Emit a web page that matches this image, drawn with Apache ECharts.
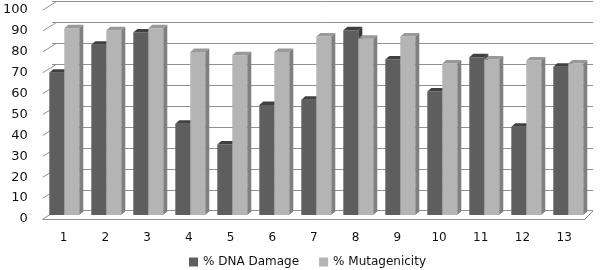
<!DOCTYPE html>
<html>
<head>
<meta charset="utf-8">
<script src="https://cdn.jsdelivr.net/npm/echarts@6/dist/echarts.min.js"></script>
<style>
  html, body { margin: 0; padding: 0; background: #fff; }
  #main { width: 600px; height: 270px; }
</style>
</head>
<body>
<div id="main"></div>
<script>
var categories = ['1', '2', '3', '4', '5', '6', '7', '8', '9', '10', '11', '12', '13']
var dnaDamage = [68.5, 82, 88, 44, 34, 53, 55.5, 89, 75, 59.5, 76, 42.5, 71.5]
var mutagenicity = [90, 89, 90, 78.5, 77, 78.5, 86, 85, 86, 73, 75, 74.5, 73]
var yTicks = [0, 10, 20, 30, 40, 50, 60, 70, 80, 90, 100]

var font = 'DejaVu Sans'
var lineColor = '#909090'

// 3d-ish column: front face, top face, right side face
function barItem (side, front, top, right) {
  return function (params, api) {
    var c = api.coord([api.value(0), api.value(1)])
    var base = api.coord([api.value(0), 0])
    var band = api.size([1, 0])[0]
    var w = band * 0.357
    var x0 = side < 0 ? c[0] - w : c[0]
    var x1 = x0 + w
    var dx = 4
    var dy = 3.5
    return {
      type: 'group',
      children: [
        { type: 'rect', shape: { x: x0, y: c[1], width: w, height: base[1] - c[1] }, style: { fill: front } },
        { type: 'polygon', shape: { points: [[x0, c[1]], [x0 + dx, c[1] - dy], [x1 + dx, c[1] - dy], [x1, c[1]]] }, style: { fill: top } },
        { type: 'polygon', shape: { points: [[x1, c[1]], [x1 + dx, c[1] - dy], [x1 + dx, base[1] - dy], [x1, base[1]]] }, style: { fill: right } }
      ]
    }
  }
}

// side wall lines from the label plane to the back wall
function wallItem (params, api) {
  var p = api.coord([0, api.value(0)])
  var x = params.coordSys.x
  var children = [
    { type: 'line', shape: { x1: x, y1: p[1], x2: x + 13, y2: p[1] - 8 }, style: { stroke: lineColor, lineWidth: 1 } }
  ]
  if (api.value(0) === 0) {
    var xr = params.coordSys.x + params.coordSys.width
    children.push({ type: 'line', shape: { x1: xr, y1: p[1], x2: xr + 8, y2: p[1] - 8 }, style: { stroke: lineColor, lineWidth: 1 } })
  }
  return { type: 'group', children: children }
}

var chart = echarts.init(document.getElementById('main'))
chart.setOption({
  animation: false,
  textStyle: { fontFamily: font },
  grid: [
    { left: 43.3, right: 10.7, top: 7.5, bottom: 55 },
    { left: 39, right: 15, top: 10, bottom: 51 },
    { left: 52, right: 7, top: 1.7, bottom: 59.3 }
  ],
  xAxis: [
    { type: 'category', gridIndex: 0, data: categories, show: false },
    {
      type: 'category',
      gridIndex: 1,
      data: categories,
      axisLine: { lineStyle: { color: lineColor } },
      axisTick: { show: false },
      axisLabel: { margin: 13, fontSize: 12, color: '#111', fontFamily: font }
    },
    { type: 'category', gridIndex: 2, data: categories, show: false }
  ],
  yAxis: [
    { type: 'value', gridIndex: 0, min: 0, max: 100, show: false },
    {
      type: 'value',
      gridIndex: 1,
      min: 0,
      max: 100,
      interval: 10,
      axisLine: { show: false },
      axisTick: { show: false },
      splitLine: { show: false },
      axisLabel: { margin: 15, fontSize: 13, color: '#111', fontFamily: font }
    },
    {
      type: 'value',
      gridIndex: 2,
      min: 0,
      max: 100,
      interval: 10,
      axisLine: { show: false },
      axisTick: { show: false },
      axisLabel: { show: false },
      splitLine: { lineStyle: { color: lineColor, width: 1 } }
    }
  ],
  legend: {
    left: 184,
    top: 251,
    icon: 'rect',
    itemWidth: 9,
    itemHeight: 9,
    itemGap: 20,
    textStyle: { fontSize: 12, color: '#111', fontFamily: font },
    data: ['% DNA Damage', '% Mutagenicity']
  },
  series: [
    {
      type: 'custom',
      xAxisIndex: 1,
      yAxisIndex: 1,
      renderItem: wallItem,
      data: yTicks.map(function (v) { return [v] }),
      silent: true,
      z: 1
    },
    {
      name: '% DNA Damage',
      type: 'custom',
      xAxisIndex: 0,
      yAxisIndex: 0,
      itemStyle: { color: '#5e5e5e' },
      renderItem: barItem(-1, '#5e5e5e', '#404040', '#3a3a3a'),
      encode: { x: 0, y: 1 },
      data: dnaDamage.map(function (v, i) { return [i, v] }),
      z: 3
    },
    {
      name: '% Mutagenicity',
      type: 'custom',
      xAxisIndex: 0,
      yAxisIndex: 0,
      itemStyle: { color: '#b4b4b4' },
      renderItem: barItem(1, '#b4b4b4', '#999999', '#808080'),
      encode: { x: 0, y: 1 },
      data: mutagenicity.map(function (v, i) { return [i, v] }),
      z: 4
    }
  ]
})
</script>
</body>
</html>
